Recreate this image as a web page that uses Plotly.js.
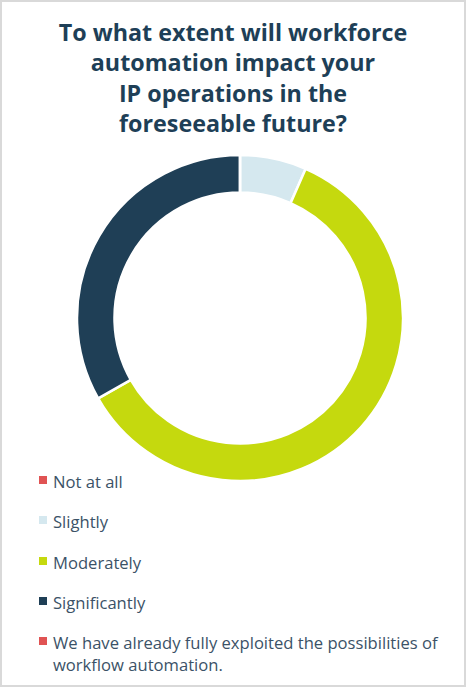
<!DOCTYPE html>
<html>
<head>
<meta charset="utf-8">
<script src="https://cdn.plot.ly/plotly-3.0.1.min.js"></script>
<style>html,body{margin:0;padding:0;background:#fff;}#chart{width:466px;height:687px;}</style>
</head>
<body>
<div id="chart"></div>
<script>
// Data
const categories = [
  "Not at all",
  "Slightly",
  "Moderately",
  "Significantly",
  "We have already fully exploited the possibilities of<br>workflow automation."
];
const shares = [0, 6.6, 60.2, 33.2, 0];
const colors = ["#e05353", "#d5e8ef", "#c5d90e", "#1f3f56", "#e05353"];
const titleText = "To what extent will workforce<br>automation impact your<br>IP operations in the<br>foreseeable future?";

const W = 466, H = 687;
const px = x => x / W;
const py = y => 1 - y / H;

const trace = {
  type: "pie",
  labels: categories,
  values: shares,
  sort: false,
  direction: "clockwise",
  rotation: 0,
  hole: 0.77,
  textinfo: "none",
  hoverinfo: "none",
  showlegend: false,
  marker: { colors: colors, line: { color: "#ffffff", width: 2.5 } },
  domain: { x: [px(77), px(403)], y: [py(481), py(155)] }
};

// Manual legend built from categories/colors
const legendY = [480, 520, 561, 601, 641];
const shapes = [
  { type: "rect", xref: "paper", yref: "paper", x0: px(1), x1: px(465), y0: py(686), y1: py(1),
    line: { color: "#d9d9d9", width: 2 }, fillcolor: "rgba(0,0,0,0)" }
];
const annotations = [];
categories.forEach((c, i) => {
  const y = legendY[i];
  shapes.push({ type: "rect", xref: "paper", yref: "paper",
    x0: px(39), x1: px(47), y0: py(y + 4), y1: py(y - 4),
    line: { width: 0 }, fillcolor: colors[i] });
  annotations.push({ xref: "paper", yref: "paper", x: px(51), y: py(y - 12),
    xanchor: "left", yanchor: "top", align: "left", showarrow: false,
    text: c, font: { family: "Open Sans", size: 16.6, color: "#3b5267" } });
});

const layout = {
  width: W, height: H,
  margin: { l: 0, r: 0, t: 0, b: 0 },
  paper_bgcolor: "#ffffff",
  title: { text: titleText, x: 0.5, xanchor: "center", y: 1 - 41 / H, yanchor: "top",
    font: { family: "Open Sans", size: 23.3, color: "#1e3f57", weight: "bold" } },
  shapes: shapes,
  annotations: annotations,
  showlegend: false
};

Plotly.newPlot("chart", [trace], layout, { staticPlot: true, displayModeBar: false });
</script>
</body>
</html>
